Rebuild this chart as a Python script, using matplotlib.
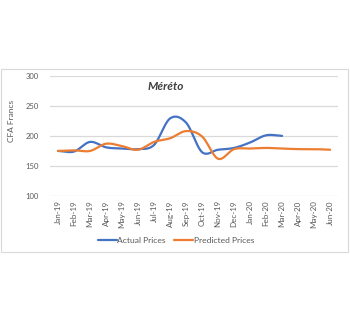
import numpy as np
import matplotlib
matplotlib.use("Agg")
import matplotlib.pyplot as plt
from matplotlib.patches import Rectangle

months = ["Jan-19", "Feb-19", "Mar-19", "Apr-19", "May-19", "Jun-19", "Jul-19", "Aug-19",
          "Sep-19", "Oct-19", "Nov-19", "Dec-19", "Jan-20", "Feb-20", "Mar-20", "Apr-20",
          "May-20", "Jun-20"]
actual = [175, 174, 190, 181, 179, 178, 185, 229, 222, 173, 177, 180, 189, 201, 200]
predicted = [175, 176, 175, 187, 183, 177, 190, 196, 208, 199, 162, 178, 179, 180, 179,
             178, 178, 177]
yticks = [100, 150, 200, 250, 300]

BLUE = "#4472C4"
ORANGE = "#ED7D31"
GRID = "#d9d9d9"
TXT = "#595959"
FONT = ["Lato", "DejaVu Sans"]


def smooth(xs, ys, n=20):
    """Catmull-Rom style smoothing for the drawn line (display only)."""
    xs = np.asarray(xs, float)
    ys = np.asarray(ys, float)
    px = np.concatenate([[2 * xs[0] - xs[1]], xs, [2 * xs[-1] - xs[-2]]])
    py = np.concatenate([[2 * ys[0] - ys[1]], ys, [2 * ys[-1] - ys[-2]]])
    ox, oy = [], []
    for i in range(1, len(px) - 2):
        t = np.linspace(0, 1, n, endpoint=False)
        for arr, out in ((px, ox), (py, oy)):
            p0, p1, p2, p3 = arr[i - 1], arr[i], arr[i + 1], arr[i + 2]
            out.extend(0.5 * ((2 * p1) + (-p0 + p2) * t +
                              (2 * p0 - 5 * p1 + 4 * p2 - p3) * t ** 2 +
                              (-p0 + 3 * p1 - 3 * p2 + p3) * t ** 3))
    ox.append(xs[-1])
    oy.append(ys[-1])
    return np.array(ox), np.array(oy)


fig = plt.figure(figsize=(3.5, 3.22), dpi=100)
fig.patches.append(Rectangle((0.004, 0.217), 0.99, 0.568, transform=fig.transFigure,
                             fill=False, edgecolor=GRID, linewidth=0.8))

ax = fig.add_axes([0.143, 0.391, 0.823, 0.374])
x = np.arange(len(months))
ax.plot(*smooth(x[:len(actual)], actual), color=BLUE, lw=1.6, label="Actual Prices",
        solid_capstyle="round")
ax.plot(*smooth(x, predicted), color=ORANGE, lw=1.6, label="Predicted Prices",
        solid_capstyle="round")

ax.set_xlim(-0.5, len(months) - 0.5)
ax.set_ylim(100, 300)
ax.set_yticks(yticks)
ax.set_yticklabels([str(v) for v in yticks], fontsize=5.5, color=TXT, family=FONT)
ax.set_xticks(x)
ax.set_xticklabels(months, rotation=90, fontsize=5.8, color=TXT, family=FONT)
ax.tick_params(axis="x", length=0, pad=3)
ax.tick_params(axis="y", length=0, pad=8)
ax.yaxis.grid(True, color=GRID, lw=0.9)
ax.set_axisbelow(True)
for s in ax.spines.values():
    s.set_visible(False)

ax.set_ylabel("CFA Francs", fontsize=6, color=TXT, family=FONT)
ax.yaxis.set_label_coords(-0.12, 0.62)
fig.text(0.422, 0.73, "Méréto", fontsize=8.5, fontweight="bold", fontstyle="italic",
         color="#404040", family=FONT, ha="left", va="center")

fig.legend(loc="center", bbox_to_anchor=(0.503, 0.253), ncol=2, frameon=False,
           labelcolor=TXT, handlelength=2.2, columnspacing=1.0,
           handletextpad=0.1, prop={"family": FONT, "size": 6.1})

fig.savefig("out.png", dpi=100, facecolor="white")
